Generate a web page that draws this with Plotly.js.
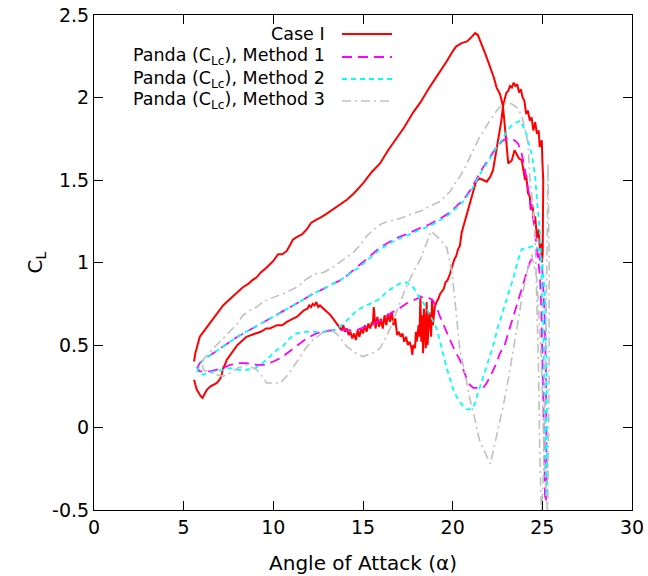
<!DOCTYPE html>
<html>
<head>
<meta charset="utf-8">
<script src="https://cdn.plot.ly/plotly-3.0.1.min.js"></script>
<style>
  html, body { margin: 0; padding: 0; background: #fff; }
  #chart { width: 648px; height: 576px; }
</style>
</head>
<body>
<div id="chart"></div>
<script>
// Lift coefficient vs angle of attack over one pitching cycle

// Case I (measured)
const caseAlpha = [
  5.58, 5.65, 5.75, 5.9, 6.1, 6.3, 6.47, 6.65, 6.84, 7.0, 7.2, 7.4, 7.6, 7.8, 8.0, 8.3, 8.6, 8.8,
  9.07, 9.3, 9.63, 10.0, 10.27, 10.5, 10.75, 11.1, 11.4, 11.6, 11.86, 12.1, 12.4, 12.6, 12.9, 13.3,
  13.5, 13.7, 14.1, 14.5, 15.0, 15.5, 15.95, 16.4, 16.9, 17.3, 17.8, 18.2, 18.7, 19.2, 19.67, 20.0,
  20.2, 20.5, 20.8, 21.0, 21.25, 21.4, 21.6, 21.8, 21.97, 22.1, 22.2, 22.3, 22.45, 22.64, 22.8, 22.9,
  23.0, 23.1, 23.3, 23.45, 23.57, 23.7, 23.85, 23.95, 24.04, 24.1, 24.2, 24.3, 24.35, 24.45, 24.55,
  24.6, 24.7, 24.8, 24.87, 24.92, 24.97, 25.02,
  25.04, 25.02, 25.05, 25.0, 24.97,
  24.85, 24.8, 24.7, 24.6, 24.5, 24.4, 24.3, 24.2, 24.1, 24.0, 23.9, 23.8, 23.7, 23.6, 23.5, 23.4,
  23.3, 23.2, 23.1, 23.0, 22.9, 22.8, 22.7, 22.55, 22.4, 22.25, 22.1, 21.9, 21.7, 21.5, 21.3, 21.15,
  20.97, 20.8, 20.6, 20.5, 20.4, 20.3, 20.2, 20.1, 19.95, 19.85, 19.7, 19.6, 19.5, 19.3, 19.2, 19.1, 19.0,
  18.9, 18.85, 18.8, 18.7, 18.6, 18.55, 18.5, 18.4, 18.35, 18.3, 18.25, 18.2, 18.15, 18.1, 18.0, 17.95,
  17.9, 17.8, 17.75, 17.7, 17.6, 17.5, 17.4, 17.3, 17.2, 17.1, 17.0, 16.9, 16.85,
  16.8, 16.7, 16.6, 16.5, 16.4, 16.3, 16.2, 16.1, 16.0, 15.9, 15.8, 15.7, 15.6, 15.55, 15.5, 15.4,
  15.3, 15.2, 15.1, 15.0, 14.9, 14.8, 14.7, 14.6, 14.5, 14.4, 14.3, 14.2, 14.1, 14.0, 13.9, 13.8,
  13.6, 13.5, 13.3, 13.2, 13.0, 12.8, 12.6, 12.5, 12.4, 12.3, 12.2, 12.1, 12.0, 11.9, 11.7, 11.5,
  11.3, 11.1, 10.9, 10.75, 10.5, 10.2, 10.0, 9.8, 9.6, 9.3, 9.0, 8.7, 8.5, 8.2, 8.0, 7.8, 7.6, 7.4,
  7.3, 7.2, 7.1, 7.0, 6.85, 6.65, 6.5, 6.3, 6.15, 6.05, 5.95, 5.85, 5.73, 5.65, 5.58
];
const caseCL = [
  0.40, 0.45, 0.49, 0.55, 0.58, 0.61, 0.63, 0.66, 0.69, 0.71, 0.74, 0.76, 0.78, 0.80, 0.82, 0.85, 0.87, 0.89,
  0.91, 0.94, 0.97, 1.01, 1.05, 1.05, 1.07, 1.14, 1.16, 1.17, 1.20, 1.24, 1.26, 1.27, 1.29, 1.32,
  1.34, 1.35, 1.38, 1.42, 1.48, 1.55, 1.60, 1.68, 1.76, 1.82, 1.91, 1.97, 2.06, 2.14, 2.22, 2.28,
  2.31, 2.33, 2.34, 2.36, 2.39, 2.38, 2.33, 2.27, 2.22, 2.18, 2.14, 2.12, 2.06, 2.02, 1.95, 1.85,
  1.72, 1.60, 1.62, 1.68, 1.66, 1.63, 1.62, 1.56, 1.50, 1.53, 1.42, 1.40, 1.32, 1.35, 1.24,
  1.28, 1.15, 1.20, 1.07, 1.12, 1.00, 1.05,
  1.20, 1.35, 1.50, 1.62, 1.74,
  1.70, 1.80, 1.78, 1.85, 1.80, 1.88, 1.86, 1.92, 1.90, 1.98, 2.00, 2.05, 2.03, 2.08, 2.07, 2.09,
  2.06, 2.07, 2.04, 2.03, 1.99, 1.94, 1.85, 1.76, 1.65, 1.56, 1.52, 1.49, 1.50, 1.51, 1.49, 1.43,
  1.36, 1.30, 1.22, 1.18, 1.10, 1.08, 1.04, 1.02, 0.97, 0.93, 0.89, 0.88, 0.84, 0.81, 0.78, 0.76, 0.73,
  0.62, 0.78, 0.55, 0.70, 0.50, 0.76, 0.48, 0.72, 0.45, 0.68, 0.52, 0.80, 0.55, 0.62, 0.52, 0.58,
  0.48, 0.50, 0.44, 0.48, 0.52, 0.50, 0.55, 0.52, 0.57, 0.55, 0.58, 0.56, 0.60,
  0.66, 0.62, 0.70, 0.64, 0.69, 0.62, 0.68, 0.60, 0.66, 0.61, 0.67, 0.60, 0.73, 0.62, 0.64, 0.60,
  0.63, 0.58, 0.62, 0.57, 0.60, 0.55, 0.59, 0.53, 0.57, 0.54, 0.58, 0.56, 0.60, 0.58, 0.62, 0.59,
  0.62, 0.63, 0.66, 0.68, 0.70, 0.72, 0.74, 0.73, 0.76, 0.74, 0.75, 0.73, 0.74, 0.72, 0.71, 0.69,
  0.67, 0.66, 0.65, 0.64, 0.62, 0.62, 0.61, 0.60, 0.60, 0.58, 0.57, 0.56, 0.55, 0.52, 0.50, 0.47, 0.44, 0.41,
  0.38, 0.36, 0.31, 0.29, 0.27, 0.26, 0.25, 0.23, 0.20, 0.18, 0.19, 0.21, 0.23, 0.26, 0.29
];

// Panda (C_Lc), Method 1
const m1Alpha = [
  5.75, 5.9, 6.1, 6.5, 6.84, 7.2, 7.6, 8.0, 8.5, 9.0, 9.5, 10.0, 10.5, 11.1, 11.6, 12.2, 12.8, 13.3,
  13.7, 14.1, 14.65, 15.2, 15.6, 15.95, 16.4, 16.9, 17.4, 17.8, 18.2, 18.7, 19.2, 19.67, 20.2, 20.6,
  21.0, 21.3, 21.6, 21.9, 22.2, 22.45, 22.8, 23.0, 23.2, 23.45, 23.65, 23.85, 24.0, 24.1, 24.25, 24.4,
  24.5, 24.6, 24.7, 24.77, 24.87, 24.95, 25.02, 25.08, 25.12, 25.15, 25.2, 25.24, 25.23, 25.2, 25.12,
  25.0, 24.8, 24.6, 24.4, 24.3, 24.1, 23.9, 23.76, 23.5, 23.2, 22.9, 22.64, 22.4, 22.1, 21.9, 21.7,
  21.4, 21.15, 20.95, 20.8, 20.6, 20.4, 20.1, 19.85, 19.6, 19.3, 19.1, 18.9, 18.6, 18.4, 18.2, 17.8,
  17.4, 17.0, 16.5, 16.0, 15.6, 15.1, 14.65, 14.1, 13.6, 13.3, 12.8, 12.4, 11.86, 11.5, 11.1, 10.75,
  10.4, 10.0, 9.5, 9.07, 8.5, 8.1, 7.6, 7.2, 6.8, 6.47, 6.1, 5.9, 5.75
];
const m1CL = [
  0.36, 0.39, 0.41, 0.44, 0.46, 0.49, 0.52, 0.55, 0.58, 0.61, 0.64, 0.67, 0.70, 0.74, 0.77, 0.81, 0.84, 0.87,
  0.89, 0.92, 0.97, 1.02, 1.06, 1.09, 1.12, 1.15, 1.17, 1.19, 1.21, 1.23, 1.26, 1.29, 1.34, 1.38,
  1.44, 1.50, 1.56, 1.61, 1.66, 1.70, 1.74, 1.75, 1.75, 1.74, 1.72, 1.66, 1.58, 1.52, 1.43, 1.34,
  1.26, 1.18, 1.08, 1.01, 0.91, 0.70, 0.40, 0.10, -0.20, -0.42, -0.45, -0.30, 0.00, 0.35, 0.70,
  0.95, 1.05, 1.05, 1.02, 1.00, 0.93, 0.86, 0.81, 0.71, 0.61, 0.50, 0.45, 0.38, 0.31, 0.27, 0.24,
  0.24, 0.24, 0.26, 0.29, 0.35, 0.41, 0.47, 0.53, 0.60, 0.67, 0.73, 0.77, 0.79, 0.79, 0.79, 0.77,
  0.75, 0.72, 0.69, 0.65, 0.63, 0.61, 0.59, 0.59, 0.59, 0.59, 0.58, 0.57, 0.54, 0.51, 0.48, 0.45,
  0.42, 0.40, 0.38, 0.38, 0.39, 0.39, 0.38, 0.36, 0.35, 0.34, 0.34, 0.34, 0.36
];

// Panda (C_Lc), Method 2
const m2Alpha = [
  5.75, 5.9, 6.1, 6.5, 6.84, 7.2, 7.6, 8.0, 8.5, 9.0, 9.5, 10.0, 10.5, 11.1, 11.6, 12.2, 12.8, 13.3,
  13.7, 14.1, 14.65, 15.2, 15.6, 15.95, 16.4, 16.9, 17.4, 17.8, 18.2, 18.7, 19.2, 19.67, 20.2, 20.6,
  21.0, 21.3, 21.6, 21.9, 22.2, 22.45, 22.8, 23.0, 23.2, 23.4, 23.57, 23.76, 23.85, 24.0, 24.1, 24.25,
  24.4, 24.5, 24.6, 24.7, 24.8, 24.87, 24.95, 25.05, 25.12, 25.18, 25.22, 25.26, 25.27, 25.24, 25.15,
  25.0, 24.8, 24.5, 24.2, 23.85, 23.6, 23.4, 23.1, 22.8, 22.5, 22.3, 22.0, 21.7, 21.4, 21.15, 20.95,
  20.8, 20.5, 20.2, 20.0, 19.67, 19.3, 19.1, 18.7, 18.4, 18.2, 17.8, 17.4, 17.0, 16.7, 16.3, 15.95,
  15.6, 15.2, 14.65, 14.2, 13.7, 13.2, 12.6, 12.2, 11.7, 11.3, 10.9, 10.6, 10.2, 9.8, 9.4, 9.0, 8.5,
  8.0, 7.6, 7.2, 6.65, 6.3, 6.1, 5.9, 5.75
];
const m2CL = [
  0.34, 0.38, 0.41, 0.44, 0.46, 0.49, 0.52, 0.55, 0.58, 0.61, 0.64, 0.67, 0.70, 0.74, 0.77, 0.81, 0.84, 0.87,
  0.89, 0.92, 0.96, 1.01, 1.05, 1.08, 1.11, 1.14, 1.16, 1.18, 1.20, 1.22, 1.25, 1.28, 1.33, 1.37,
  1.43, 1.49, 1.55, 1.60, 1.65, 1.70, 1.75, 1.79, 1.82, 1.84, 1.85, 1.86, 1.84, 1.81, 1.78, 1.72,
  1.66, 1.59, 1.52, 1.38, 1.27, 1.18, 0.95, 0.60, 0.20, -0.20, -0.42, -0.38, 0.00, 0.40, 0.80,
  1.00, 1.08, 1.10, 1.09, 1.08, 1.00, 0.91, 0.81, 0.71, 0.60, 0.51, 0.41, 0.31, 0.20, 0.12, 0.11,
  0.11, 0.14, 0.19, 0.24, 0.36, 0.52, 0.60, 0.69, 0.75, 0.78, 0.85, 0.88, 0.87, 0.85, 0.82, 0.78,
  0.76, 0.74, 0.71, 0.66, 0.61, 0.58, 0.58, 0.58, 0.58, 0.57, 0.54, 0.50, 0.47, 0.43, 0.39, 0.36, 0.35,
  0.35, 0.36, 0.35, 0.34, 0.33, 0.32, 0.33, 0.34
];

// Panda (C_Lc), Method 3
const m3Alpha = [
  6.0, 6.3, 6.65, 6.84, 7.2, 7.6, 8.0, 8.3, 8.7, 9.07, 9.4, 9.8, 10.3, 10.75, 11.3, 11.86, 12.3, 12.8,
  13.3, 13.7, 14.1, 14.45, 14.8, 15.2, 15.6, 15.95, 16.4, 16.9, 17.4, 17.8, 18.2, 18.7, 19.3, 19.67,
  19.85, 20.2, 20.4, 20.7, 20.97, 21.15, 21.5, 21.9, 22.2, 22.45, 22.7, 23.0, 23.3, 23.57, 23.75, 23.9,
  24.05, 24.2, 24.3, 24.5, 24.6, 24.7, 24.8, 24.85, 24.9, 24.95, 25.05, 25.15, 25.25, 25.32, 25.38,
  25.38, 25.3, 25.1, 24.95, 24.7, 24.4, 24.2, 23.9, 23.65, 23.4, 23.1, 22.8, 22.45, 22.1, 21.8, 21.5,
  21.2, 20.97, 20.7, 20.4, 20.1, 19.95, 19.67, 19.3, 18.8, 18.5, 18.2, 17.8, 17.4, 16.9, 16.6, 16.3,
  15.95, 15.5, 15.0, 14.6, 14.1, 13.6, 13.2, 12.7, 12.2, 11.8, 11.3, 10.9, 10.4, 10.0, 9.63, 9.3,
  9.07, 8.5, 8.0, 7.6, 7.2, 6.8, 6.3, 6.1, 6.0
];
const m3CL = [
  0.40, 0.44, 0.48, 0.50, 0.54, 0.58, 0.63, 0.68, 0.71, 0.73, 0.76, 0.78, 0.80, 0.82, 0.85, 0.90, 0.93, 0.94,
  0.97, 1.00, 1.03, 1.06, 1.10, 1.16, 1.20, 1.23, 1.25, 1.26, 1.28, 1.30, 1.31, 1.34, 1.37, 1.41,
  1.43, 1.49, 1.52, 1.58, 1.64, 1.68, 1.76, 1.83, 1.88, 1.92, 1.95, 1.97, 1.96, 1.94, 1.91, 1.87,
  1.80, 1.72, 1.52, 1.32, 1.16, 0.80, 0.30, -0.10, -0.45, -0.55, -0.30, 0.20, 1.00, 1.60, 1.00,
  0.30, -0.55, -0.20, 0.40, 0.90, 1.05, 0.97, 0.81, 0.64, 0.47, 0.29, 0.12, -0.06, -0.22, -0.15, -0.08,
  0.07, 0.17, 0.32, 0.47, 0.80, 0.95, 1.09, 1.14, 1.19, 1.11, 1.02, 0.94, 0.85, 0.71, 0.62, 0.55,
  0.48, 0.45, 0.43, 0.45, 0.49, 0.56, 0.60, 0.57, 0.53, 0.48, 0.40, 0.33, 0.27, 0.27, 0.27, 0.32,
  0.35, 0.38, 0.36, 0.33, 0.31, 0.32, 0.34, 0.35, 0.40
];

// Axis ticks
const xTicks = [0, 5, 10, 15, 20, 25, 30];
const xTickText = ['0', '5', '10', '15', '20', '25', '30'];
const yTicks = [-0.5, 0, 0.5, 1, 1.5, 2, 2.5];
const yTickText = ['-0.5', '0', '0.5', '1', '1.5', '2', '2.5'];

// Series labels and styles
const seriesNames = [
  'Case I',
  'Panda (C<sub>Lc</sub>), Method 1',
  'Panda (C<sub>Lc</sub>), Method 2',
  'Panda (C<sub>Lc</sub>), Method 3'
];
const seriesColors = ['#ff0000', '#ff00ff', '#00ffff', '#c0c0c0'];
const seriesDash = ['solid', '10px,6px', '5px,4px', '9px,4px,2px,4px'];
const seriesWidth = [2, 1.8, 1.8, 1.6];

const xs = [caseAlpha, m1Alpha, m2Alpha, m3Alpha];
const ys = [caseCL, m1CL, m2CL, m3CL];

const FONT = 'DejaVu Sans, Liberation Sans, sans-serif';

const traces = xs.map((x, i) => ({
  x: x,
  y: ys[i],
  type: 'scatter',
  mode: 'lines',
  name: seriesNames[i],
  showlegend: false,
  line: { color: seriesColors[i], width: seriesWidth[i], dash: seriesDash[i] },
  hoverinfo: 'skip'
}));

// Key in the top-left of the frame: text first, then a line sample
const keyRowsY = [0.9616, 0.9152, 0.8707, 0.8263];
const annotations = seriesNames.map((name, i) => ({
  xref: 'paper', yref: 'paper',
  x: 0.433, y: keyRowsY[i],
  xanchor: 'right', yanchor: 'middle',
  text: name, showarrow: false,
  font: { family: FONT, size: 17.5, color: '#000' }
}));
const shapes = seriesNames.map((name, i) => ({
  type: 'line', xref: 'paper', yref: 'paper',
  x0: 0.461, x1: 0.554, y0: keyRowsY[i], y1: keyRowsY[i],
  line: { color: seriesColors[i], width: seriesWidth[i], dash: seriesDash[i] }
}));

const layout = {
  width: 648,
  height: 576,
  margin: { l: 94, r: 16, t: 15, b: 66 },
  paper_bgcolor: '#fff',
  plot_bgcolor: '#fff',
  font: { family: FONT, size: 18, color: '#000' },
  xaxis: {
    range: [0, 30],
    tickvals: xTicks,
    ticktext: xTickText,
    ticks: 'inside',
    ticklen: 9,
    tickwidth: 1,
    tickcolor: '#000',
    showline: true,
    linecolor: '#000',
    linewidth: 1,
    mirror: 'ticks',
    showgrid: false,
    zeroline: false,
    tickfont: { family: FONT, size: 19, color: '#000' },
    title: { text: 'Angle of Attack (α)', font: { family: FONT, size: 20, color: '#000' }, standoff: 19 }
  },
  yaxis: {
    range: [-0.5, 2.5],
    tickvals: yTicks,
    ticktext: yTickText,
    ticks: 'inside',
    ticklen: 9,
    tickwidth: 1,
    tickcolor: '#000',
    showline: true,
    linecolor: '#000',
    linewidth: 1,
    mirror: 'ticks',
    showgrid: false,
    zeroline: false,
    tickfont: { family: FONT, size: 19, color: '#000' },
    title: { text: 'C<sub>L</sub>', font: { family: FONT, size: 20, color: '#000' }, standoff: 4 }
  },
  annotations: annotations,
  shapes: shapes
};

Plotly.newPlot('chart', traces, layout, { staticPlot: true, displayModeBar: false });
</script>
</body>
</html>
